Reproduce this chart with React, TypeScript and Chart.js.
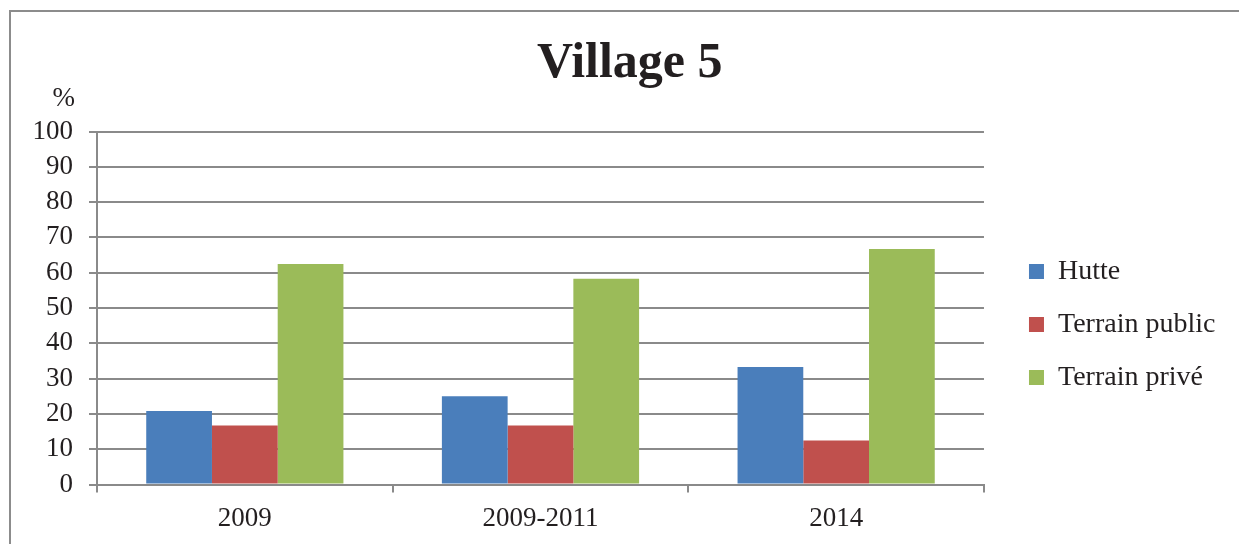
import React, { useEffect, useRef } from 'react';
import { Chart, registerables } from 'chart.js';

Chart.register(...registerables);

// ---- data ----
const categories = ['2009', '2009-2011', '2014'];
const seriesNames = ['Hutte', 'Terrain public', 'Terrain privé'];
const hutteValues = [20.8, 25, 33.3];
const terrainPublicValues = [16.7, 16.7, 12.5];
const terrainPriveValues = [62.5, 58.3, 66.7];
const titleText = 'Village 5';
const unitLabel = '%';
const yMin = 0;
const yMax = 100;
const yStep = 10;

// ---- style ----
const W = 1239;
const H = 544;
const FONT = '"Liberation Serif", "Times New Roman", serif';
const TEXT = '#231f20';
const GRID = '#8a8a8a';
const COLORS = ['#4a7ebb', '#c0504d', '#9bbb59'];

const boxShift = {
  id: 'boxShift',
  afterLayout(chart: any) {
    const l = chart.legend;
    if (l) {
      l.left += 20;
      l.right += 20;
      l.top += 16.5;
      l.bottom += 16.5;
    }
    const t = chart.titleBlock;
    if (t) {
      t.left += 17;
      t.right += 17;
    }
  },
};

const unitPlugin = {
  id: 'unitLabel',
  afterDraw(chart: any) {
    const s = chart.scales.y;
    const ctx = chart.ctx;
    ctx.save();
    ctx.font = `27px ${FONT}`;
    ctx.fillStyle = TEXT;
    ctx.textAlign = 'right';
    ctx.textBaseline = 'alphabetic';
    ctx.fillText(unitLabel, s.right - 22, s.top - 25.5);
    ctx.restore();
  },
};

export default function App() {
  const ref = useRef<HTMLCanvasElement | null>(null);

  useEffect(() => {
    if (!ref.current) return;
    const values = [hutteValues, terrainPublicValues, terrainPriveValues];
    const chart = new Chart(ref.current, {
      type: 'bar',
      data: {
        labels: categories,
        datasets: seriesNames.map((name, i) => ({
          label: name,
          data: values[i],
          backgroundColor: COLORS[i],
          borderWidth: 0,
          barPercentage: 1,
          categoryPercentage: 0.667,
        })),
      },
      options: {
        responsive: false,
        animation: false,
        layout: { padding: { left: 20, right: 33.6, top: 0, bottom: 8 } },
        plugins: {
          title: {
            display: true,
            text: titleText,
            color: TEXT,
            font: { family: FONT, size: 50, weight: 'bold' },
            padding: { top: 34, bottom: 37.5 },
          },
          legend: {
            position: 'right',
            fullSize: false,
            align: 'center',
            labels: {
              boxWidth: 15,
              boxHeight: 15,
              padding: 25,
              color: TEXT,
              font: { family: FONT, size: 28 },
            },
          },
          tooltip: { enabled: false },
        },
        scales: {
          x: {
            grid: {
              display: true,
              drawOnChartArea: false,
              drawTicks: true,
              tickLength: 8,
              color: GRID,
              lineWidth: 2,
              offset: true,
            },
            border: { display: true, color: GRID, width: 2 },
            ticks: { padding: 10.5, color: TEXT, font: { family: FONT, size: 27 } },
            afterFit(s: any) {
              s.height = 51.5;
            },
          },
          y: {
            min: yMin,
            max: yMax,
            ticks: {
              stepSize: yStep,
              autoSkip: false,
              padding: 16,
              color: TEXT,
              font: { family: FONT, size: 27 },
            },
            grid: { color: GRID, lineWidth: 2, tickLength: 8 },
            border: { display: true, color: GRID, width: 2 },
            afterFit(s: any) {
              s.width = 77;
            },
          },
        },
      },
      plugins: [boxShift, unitPlugin],
    } as any);
    return () => chart.destroy();
  }, []);

  return (
    <div
      style={{
        position: 'fixed',
        left: 0,
        top: 0,
        width: W,
        height: H,
        overflow: 'hidden',
        background: '#fff',
      }}
    >
      <div
        style={{
          position: 'absolute',
          left: 9,
          top: 10,
          width: W + 200,
          height: H + 200,
          border: '2px solid #8c8c8c',
          boxSizing: 'border-box',
        }}
      />
      <canvas
        ref={ref}
        width={W}
        height={H}
        style={{ position: 'absolute', left: 0, top: 0, display: 'block' }}
      />
    </div>
  );
}
